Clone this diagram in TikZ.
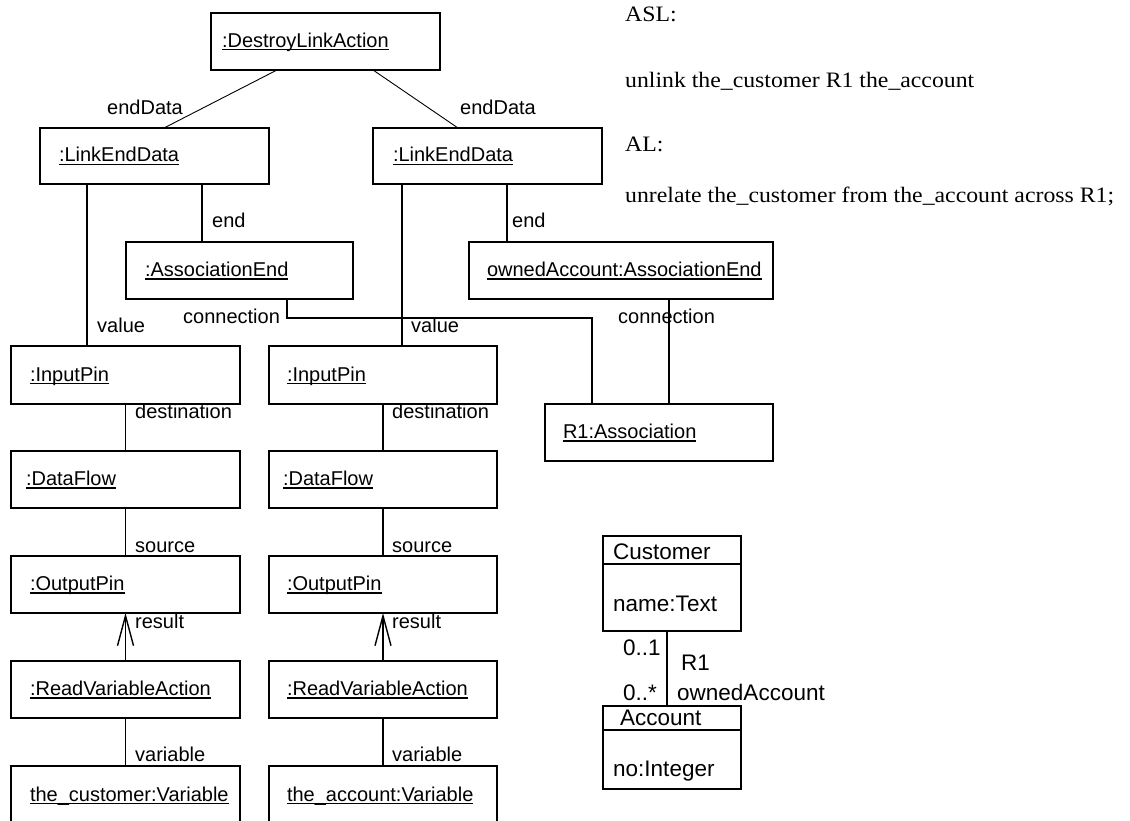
\documentclass[tikz,border=0pt]{standalone}
\usepackage{fontspec}
\setmainfont{Liberation Serif}
\setsansfont{Liberation Sans}
\newfontfamily\codefamily{Liberation Serif}[FakeStretch=1.08]
\usetikzlibrary{arrows.meta}

% fonts for the three kinds of text
\newcommand\objfont{\sffamily\fontsize{20}{24}\selectfont}
\newcommand\classfont{\sffamily\fontsize{22.5}{26}\selectfont}
\newcommand\codefont{\codefamily\fontsize{22}{26}\selectfont}

% underlined instance name, rule just under the baseline
\newsavebox\ulinebox
\newcommand\objname[1]{\sbox\ulinebox{#1}\rlap{\rule[-3pt]{\wd\ulinebox}{1.3pt}}\usebox\ulinebox}

\tikzset{
  objnode/.style={draw, line width=1.5pt, anchor=north west, outer sep=0pt,
    inner ysep=0pt, align=left, text height=16pt, text depth=4pt, font=\objfont},
  rolelbl/.style={anchor=base west, inner sep=0pt, font=\objfont},
  classlbl/.style={anchor=base west, inner sep=0pt, font=\classfont},
  codelbl/.style={anchor=base west, inner sep=0pt, font=\codefont},
  classframe/.style={draw, line width=1.5pt, anchor=north west, outer sep=0pt, inner sep=0pt},
  link/.style={line width=1.4pt},
  thinlink/.style={line width=0.9pt},
  navlink/.style={line width=1.4pt, -{Straight Barb[length=30pt,width=16pt]}},
}

% object box: name, x, y, width, height, left inset, label
\newcommand\objbox[7]{%
  \pgfmathsetmacro\objtw{#4-2*#6}%
  \node[objnode, minimum width=#4pt, minimum height=#5pt, inner xsep=#6pt,
        text width=\objtw pt] (#1) at (#2,#3) {\objname{#7}};}

\begin{document}
\begin{tikzpicture}[x=1pt, y=-1pt]
\useasboundingbox (0,0) rectangle (1130,821);
\clip (0,0) rectangle (1130,821);

% ---------- object diagram ----------
\objbox{dla}{211}{13}{229}{57}{11}{:DestroyLinkAction}
\objbox{ledA}{40}{128}{229}{56}{19}{:LinkEndData}
\objbox{ledB}{373}{128}{229}{56}{20}{:LinkEndData}
\objbox{aeA}{126}{242}{227}{57}{19}{:AssociationEnd}
\objbox{aeB}{469}{242}{304}{57}{18}{ownedAccount:AssociationEnd}
\objbox{assoc}{545}{404}{228}{57}{18}{R1:Association}

\objbox{ipA}{11}{346}{229}{58}{19}{:InputPin}
\objbox{ipB}{269}{346}{228}{58}{18}{:InputPin}
\objbox{dfA}{11}{451}{229}{57}{15}{:DataFlow}
\objbox{dfB}{269}{451}{228}{57}{14}{:DataFlow}
\objbox{opA}{11}{556}{229}{57}{19}{:OutputPin}
\objbox{opB}{269}{556}{228}{57}{18}{:OutputPin}
\objbox{rvA}{11}{661}{229}{57}{19}{:ReadVariableAction}
\objbox{rvB}{269}{661}{228}{57}{18}{:ReadVariableAction}
\objbox{varA}{11}{766}{229}{58}{19}{the\_customer:Variable}
\objbox{varB}{269}{766}{228}{58}{18}{the\_account:Variable}

% links
\draw[thinlink] ([xshift=66pt]dla.south west) -- ([xshift=124pt]ledA.north west);
\draw[thinlink] ([xshift=162pt]dla.south west) -- ([xshift=85pt]ledB.north west);
\draw[link] ([xshift=47pt]ledA.south west) -- ([xshift=76pt]ipA.north west);
\draw[link] ([xshift=162pt]ledA.south west) -- ([xshift=76pt]aeA.north west);
\draw[link] ([xshift=29pt]ledB.south west) -- ([xshift=133pt]ipB.north west);
\draw[link] ([xshift=134pt]ledB.south west) -- ([xshift=38pt]aeB.north west);
\draw[link] ([xshift=161pt]aeA.south west) -- ++(0,19) -| ([xshift=47pt]assoc.north west);
\draw[link] ([xshift=200pt]aeB.south west) -- ([xshift=124pt]assoc.north west);
\draw[link] (ipA.south) -- (dfA.north);
\draw[link] (ipB.south) -- (dfB.north);
\draw[link] (dfA.south) -- (opA.north);
\draw[link] (dfB.south) -- (opB.north);
\draw[navlink] (rvA.north) -- (opA.south);
\draw[navlink] (rvB.north) -- (opB.south);
\draw[link] (rvA.south) -- (varA.north);
\draw[link] (rvB.south) -- (varB.north);

% role names
\node[rolelbl] (rEndDataA) at (107,115) {endData};
\node[rolelbl] (rEndDataB) at (460,115) {endData};
\node[rolelbl] (rEndA) at (212,228) {end};
\node[rolelbl] (rEndB) at (512,228) {end};
\node[rolelbl] (rConnA) at (183,323) {connection};
\node[rolelbl] (rConnB) at (618,323) {connection};
\node[rolelbl] (rValueA) at (97,332) {value};
\node[rolelbl] (rValueB) at (411,332) {value};
\node[rolelbl] (rDestA) at (135,418) {destination};
\node[rolelbl] (rDestB) at (392,418) {destination};
\node[rolelbl] (rSrcA) at (135,552) {source};
\node[rolelbl] (rSrcB) at (392,552) {source};
\node[rolelbl] (rResA) at (135,628) {result};
\node[rolelbl] (rResB) at (392,628) {result};
\node[rolelbl] (rVarA) at (135,761) {variable};
\node[rolelbl] (rVarB) at (392,761) {variable};

% ---------- action language text ----------
\node[codelbl] (aslHead) at (625,22) {ASL:};
\node[codelbl] (aslCode) at (625,88) {unlink the\_customer R1 the\_account};
\node[codelbl] (alHead) at (625,152) {AL:};
\node[codelbl] (alCode) at (625,203) {unrelate the\_customer from the\_account across R1;};

% ---------- class diagram ----------
\node[classframe, minimum width=138pt, minimum height=95pt] (customer) at (603,536) {};
\draw[line width=1.5pt] ([yshift=-28pt]customer.north west) -- ([yshift=-28pt]customer.north east);
\node[classlbl] (customerName) at (613,559) {Customer};
\node[classlbl] (customerAttr) at (613,611) {name:Text};

\node[classframe, minimum width=138pt, minimum height=83pt] (account) at (603,706) {};
\draw[line width=1.5pt] ([yshift=-24pt]account.north west) -- ([yshift=-24pt]account.north east);
\node[classlbl] (accountName) at (620,725) {Account};
\node[classlbl] (accountAttr) at (613,776) {no:Integer};

\draw[link] ([xshift=64pt]customer.south west) -- ([xshift=64pt]account.north west);
\node[classlbl] (multCust) at (623,655) {0..1};
\node[classlbl] (assocName) at (681,670) {R1};
\node[classlbl] (multAcct) at (623,700) {0..*};
\node[classlbl] (roleAcct) at (677,700) {ownedAccount};
\end{tikzpicture}
\end{document}
